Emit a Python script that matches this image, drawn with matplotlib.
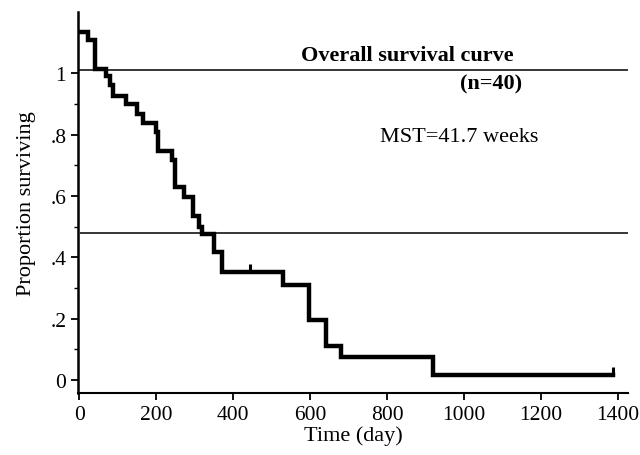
import numpy as np
import matplotlib.pyplot as plt

# Kaplan-Meier steps (time in days, proportion surviving)
times = [0, 23, 42, 70, 81, 88, 122, 151, 166, 200, 205, 242, 249, 273, 296,
         312, 320, 351, 371, 530, 597, 642, 681, 919, 1387]
surv = [1.136, 1.108, 1.015, 0.993, 0.961, 0.925, 0.899, 0.869, 0.840, 0.810,
        0.748, 0.716, 0.631, 0.598, 0.536, 0.500, 0.477, 0.418, 0.353, 0.310,
        0.196, 0.111, 0.075, 0.016, 0.016]
censor_t = [444, 1387]
censor_s = [0.353, 0.016]
ref_levels = [1.01, 0.48]

xticks = [0, 200, 400, 600, 800, 1000, 1200, 1400]
yticks = [0, 0.2, 0.4, 0.6, 0.8, 1.0]
ytick_labels = ['0', '.2', '.4', '.6', '.8', '1']

plt.rcParams['font.family'] = ['Liberation Serif', 'DejaVu Serif']

fig = plt.figure(figsize=(6.4, 4.56), dpi=100)
ax = fig.add_axes([0.122, 0.136, 0.859, 0.835])

ax.step(times, surv, where='post', color='black', lw=3.2, solid_joinstyle='miter')
ax.vlines(censor_t, censor_s, [s + 0.026 for s in censor_s], color='black', lw=2.2)
ax.hlines(ref_levels, [-3, 3], 1426, color='black', lw=1.1)

ax.text(577, 1.028, 'Overall survival curve', fontsize=16, fontweight='bold', ha='left', va='bottom')
ax.text(1070, 0.967, '(n=40)', fontsize=16, fontweight='bold', ha='center', va='center')
ax.text(987, 0.794, 'MST=41.7 weeks', fontsize=16, ha='center', va='center')

ax.set_xlim(-3, 1426)
ax.set_ylim(-0.043, 1.2)
ax.set_xticks(xticks)
ax.set_yticks(yticks)
ax.set_yticklabels(ytick_labels)
ax.set_yticks(np.arange(0.1, 1.1, 0.2), minor=True)
ax.tick_params(axis='both', which='major', labelsize=15.5, length=5, width=1.3, direction='out')
ax.tick_params(axis='y', which='minor', length=3, width=1.0, direction='out')

for side in ['top', 'right']:
    ax.spines[side].set_visible(False)
ax.spines['left'].set_linewidth(1.8)
ax.spines['bottom'].set_linewidth(1.5)

ax.set_xlabel('Time (day)', fontsize=16, labelpad=1)
ax.set_ylabel('Proportion surviving', fontsize=16, labelpad=10)

fig.savefig('out.png', dpi=100)
